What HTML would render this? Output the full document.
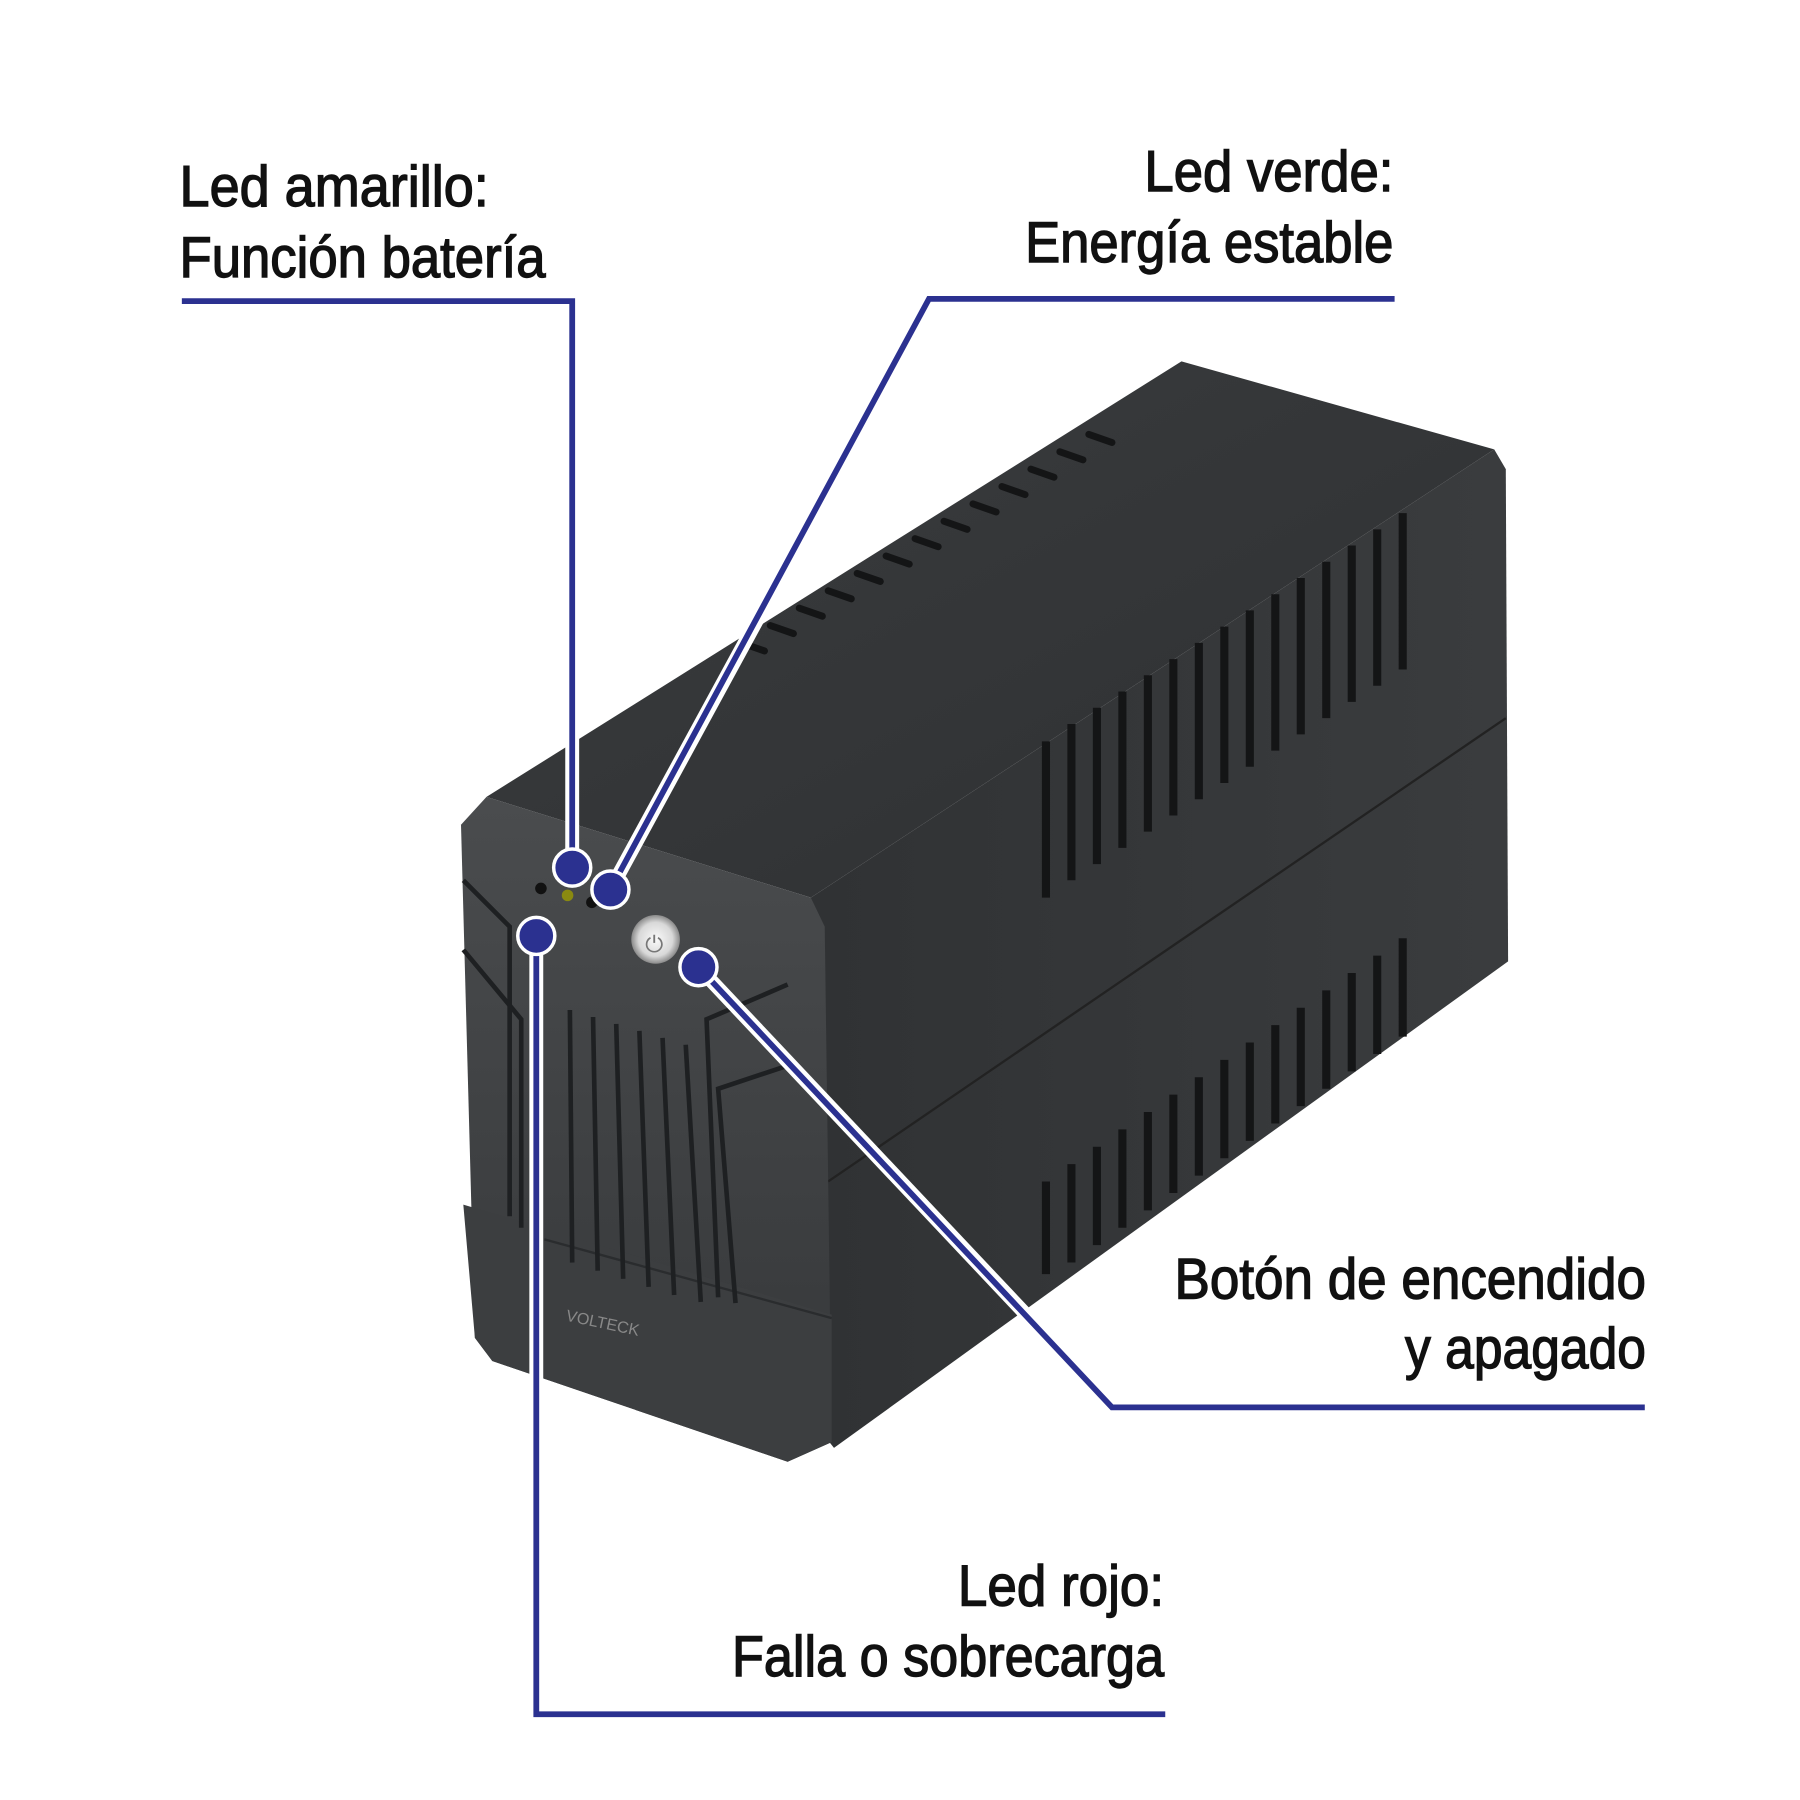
<!DOCTYPE html>
<html><head><meta charset="utf-8"><style>
html,body{margin:0;padding:0;background:#fff;}
svg{display:block}
text{font-family:"Liberation Sans",sans-serif;fill:#111;font-size:50px;stroke:#111;stroke-width:1.2px;}
</style></head><body>
<svg width="1800" height="1800" viewBox="0 0 1554 1554" xmlns="http://www.w3.org/2000/svg">
<defs>
<linearGradient id="fr" x1="0" y1="0" x2="0" y2="1"><stop offset="0" stop-color="#4a4c4e"/><stop offset="1" stop-color="#353739"/></linearGradient>
<linearGradient id="tp" x1="0" y1="0" x2="1" y2="1"><stop offset="0" stop-color="#3a3c3e"/><stop offset="1" stop-color="#2e3032"/></linearGradient>
<linearGradient id="sd" x1="0" y1="0" x2="1" y2="0"><stop offset="0" stop-color="#303234"/><stop offset="1" stop-color="#3a3c3e"/></linearGradient>
<radialGradient id="btn"><stop offset="0" stop-color="#fafafa"/><stop offset="0.7" stop-color="#d8d8d8"/><stop offset="1" stop-color="#8a8a8a"/></radialGradient>
</defs>
<polygon points="700,775 1290,388 1300,405 1302,830 720,1250 712,1240" fill="url(#sd)"/>
<line x1="715" y1="1020" x2="1300" y2="620" stroke="#222" stroke-width="2"/>
<polygon points="420,688 1020,312 1290,388 700,775" fill="url(#tp)"/>
<polygon points="398,712 420,688 700,775 712,800 718,1245 680,1262 425,1175 410,1155" fill="url(#fr)"/>
<polygon points="400,1040 718,1135 718,1245 680,1262 425,1175 410,1155" fill="#3c3e40"/>
<line x1="470" y1="1070" x2="718" y2="1138" stroke="#2a2c2e" stroke-width="2"/>
<g stroke="#1e2022" stroke-width="4">
<line x1="492" y1="872" x2="494" y2="1090"/><line x1="512" y1="878" x2="516" y2="1097"/><line x1="532" y1="884" x2="538" y2="1104"/><line x1="552" y1="890" x2="560" y2="1111"/><line x1="572" y1="896" x2="582" y2="1118"/><line x1="592" y1="902" x2="605" y2="1124"/>
<polyline points="400,760 440,800 440,1050" fill="none"/><polyline points="400,820 450,880 450,1060" fill="none"/>
<polyline points="680,850 610,880 620,1120" fill="none"/><polyline points="680,920 620,940 635,1125" fill="none"/>
</g>
<text x="488" y="1140" style="font-size:14px;fill:#888;stroke:none" transform="rotate(12 488 1140)">VOLTECK</text>
<g stroke="#141516" stroke-width="6" stroke-linecap="round">
<line x1="640" y1="555" x2="660" y2="562"/><line x1="665" y1="540" x2="685" y2="547"/><line x1="690" y1="525" x2="710" y2="532"/><line x1="715" y1="510" x2="735" y2="517"/><line x1="740" y1="495" x2="760" y2="502"/><line x1="765" y1="480" x2="785" y2="487"/><line x1="790" y1="465" x2="810" y2="472"/><line x1="815" y1="450" x2="835" y2="457"/><line x1="840" y1="435" x2="860" y2="442"/><line x1="865" y1="420" x2="885" y2="427"/><line x1="890" y1="405" x2="910" y2="412"/><line x1="915" y1="390" x2="935" y2="397"/><line x1="940" y1="375" x2="960" y2="382"/>
</g>
<g stroke="#141516" stroke-width="7">
<line x1="903" y1="640" x2="903" y2="775"/><line x1="925" y1="625" x2="925" y2="760"/><line x1="947" y1="611" x2="947" y2="746"/><line x1="969" y1="597" x2="969" y2="732"/><line x1="991" y1="583" x2="991" y2="718"/><line x1="1013" y1="569" x2="1013" y2="704"/><line x1="1035" y1="555" x2="1035" y2="690"/><line x1="1057" y1="541" x2="1057" y2="676"/><line x1="1079" y1="527" x2="1079" y2="662"/><line x1="1101" y1="513" x2="1101" y2="648"/><line x1="1123" y1="499" x2="1123" y2="634"/><line x1="1145" y1="485" x2="1145" y2="620"/><line x1="1167" y1="471" x2="1167" y2="606"/><line x1="1189" y1="457" x2="1189" y2="592"/><line x1="1211" y1="443" x2="1211" y2="578"/>
<line x1="903" y1="1020" x2="903" y2="1100"/><line x1="925" y1="1005" x2="925" y2="1090"/><line x1="947" y1="990" x2="947" y2="1075"/><line x1="969" y1="975" x2="969" y2="1060"/><line x1="991" y1="960" x2="991" y2="1045"/><line x1="1013" y1="945" x2="1013" y2="1030"/><line x1="1035" y1="930" x2="1035" y2="1015"/><line x1="1057" y1="915" x2="1057" y2="1000"/><line x1="1079" y1="900" x2="1079" y2="985"/><line x1="1101" y1="885" x2="1101" y2="970"/><line x1="1123" y1="870" x2="1123" y2="955"/><line x1="1145" y1="855" x2="1145" y2="940"/><line x1="1167" y1="840" x2="1167" y2="925"/><line x1="1189" y1="825" x2="1189" y2="910"/><line x1="1211" y1="810" x2="1211" y2="895"/>
</g>
<circle cx="467" cy="767" r="5" fill="#111"/><circle cx="490" cy="773" r="5" fill="#8a8a10"/><circle cx="511" cy="779" r="5" fill="#111"/>
<circle cx="566" cy="811" r="21" fill="url(#btn)"/>
<text x="557" y="822" style="font-size:20px;fill:#777;stroke:none">⏻</text>
<g fill="none">
<g stroke="#fff" stroke-width="12">
<polyline points="494,600 494,750"/><polyline points="700,450 527,768"/><polyline points="603,835 900,1150"/><polyline points="463,808 463,1200"/>
</g>
<g stroke="#2b3190" stroke-width="5">
<polyline points="157,260 494,260 494,750"/>
<polyline points="1204,258 802,258 527,768"/>
<polyline points="603,835 960,1215 1420,1215"/>
<polyline points="463,808 463,1480 1006,1480"/>
</g>
</g>
<g fill="#2b3190" stroke="#fff" stroke-width="3">
<circle cx="494" cy="749" r="16"/><circle cx="527" cy="768" r="16"/><circle cx="463" cy="808" r="16"/><circle cx="603" cy="835" r="16"/>
</g>
<text x="155" y="178" textLength="267" lengthAdjust="spacingAndGlyphs">Led amarillo:</text>
<text x="155" y="239" textLength="316" lengthAdjust="spacingAndGlyphs">Función batería</text>
<text x="1203" y="165" text-anchor="end" textLength="215" lengthAdjust="spacingAndGlyphs">Led verde:</text>
<text x="1203" y="226" text-anchor="end" textLength="318" lengthAdjust="spacingAndGlyphs">Energía estable</text>
<text x="1421" y="1121" text-anchor="end" textLength="407" lengthAdjust="spacingAndGlyphs">Botón de encendido</text>
<text x="1421" y="1181" text-anchor="end" textLength="208" lengthAdjust="spacingAndGlyphs">y apagado</text>
<text x="1005" y="1386" text-anchor="end" textLength="178" lengthAdjust="spacingAndGlyphs">Led rojo:</text>
<text x="1005" y="1447" text-anchor="end" textLength="373" lengthAdjust="spacingAndGlyphs">Falla o sobrecarga</text>
</svg>
</body></html>
